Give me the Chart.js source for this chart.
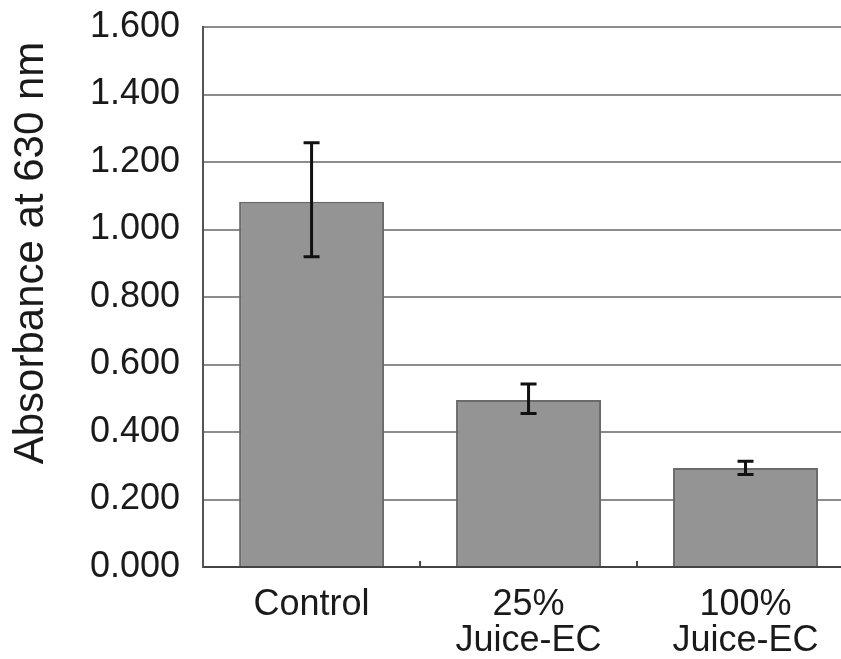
<!DOCTYPE html>
<html>
<head>
<meta charset="utf-8">
<script src="https://cdn.jsdelivr.net/npm/chart.js@4/dist/chart.umd.min.js"></script>
<style>
  html, body { margin: 0; padding: 0; background: #fff; overflow: hidden; }
  #wrap { width: 841px; height: 659px; overflow: hidden; position: relative; }
  #c { position: absolute; left: 0; top: 0; }
</style>
</head>
<body>
<div id="wrap"><canvas id="c" width="880" height="659"></canvas></div>
<script>
const categories = ['Control', ['25%', 'Juice-EC'], ['100%', 'Juice-EC']];
const absorbance = [1.082, 0.495, 0.293];
const errUpper = [1.257, 0.542, 0.313];
const errLower = [0.919, 0.455, 0.274];
const yTicks = [0, 0.2, 0.4, 0.6, 0.8, 1.0, 1.2, 1.4, 1.6];
const yTitle = 'Absorbance at 630 nm';

const FONT = '"Liberation Sans", Arial, sans-serif';

const extras = {
  id: 'extras',
  afterDatasetsDraw(chart) {
    const ctx = chart.ctx;
    const xs = chart.scales.x, ys = chart.scales.y;
    const area = chart.chartArea;
    ctx.save();
    // error bars
    ctx.strokeStyle = '#111';
    ctx.lineWidth = 3;
    for (let i = 0; i < absorbance.length; i++) {
      const x = xs.getPixelForValue(i);
      const yt = ys.getPixelForValue(errUpper[i]);
      const yb = ys.getPixelForValue(errLower[i]);
      ctx.beginPath();
      ctx.moveTo(x, yt); ctx.lineTo(x, yb);
      ctx.moveTo(x - 8, yt); ctx.lineTo(x + 8, yt);
      ctx.moveTo(x - 8, yb); ctx.lineTo(x + 8, yb);
      ctx.stroke();
    }
    // small inward ticks between categories
    ctx.strokeStyle = '#444';
    ctx.lineWidth = 2;
    for (let i = 1; i < absorbance.length; i++) {
      const x = (xs.getPixelForValue(i - 1) + xs.getPixelForValue(i)) / 2;
      ctx.beginPath();
      ctx.moveTo(x, area.bottom); ctx.lineTo(x, area.bottom - 6);
      ctx.stroke();
    }
    // y axis title
    ctx.fillStyle = '#1a1a1a';
    ctx.font = '42px ' + FONT;
    ctx.textAlign = 'center';
    ctx.textBaseline = 'middle';
    ctx.translate(area.left - 172, (area.top + area.bottom) / 2 - 44);
    ctx.rotate(-Math.PI / 2);
    ctx.fillText(yTitle, 0, 0);
    ctx.restore();
  }
};

new Chart(document.getElementById('c'), {
  type: 'bar',
  data: {
    labels: categories,
    datasets: [{
      data: absorbance,
      backgroundColor: '#949494',
      borderColor: '#6a6a6a',
      borderWidth: 2,
      barPercentage: 0.668,
      categoryPercentage: 1.0
    }]
  },
  options: {
    responsive: false,
    animation: false,
    events: [],
    layout: { padding: { left: 90, right: 26, top: 27, bottom: -20 } },
    plugins: { legend: { display: false }, tooltip: { enabled: false } },
    scales: {
      x: {
        grid: { display: false, drawTicks: false },
        border: { display: true, color: '#444', width: 2 },
        ticks: {
          color: '#1a1a1a',
          font: { family: FONT, size: 36, lineHeight: 1.0 },
          padding: 20,
          maxRotation: 0,
          autoSkip: false
        }
      },
      y: {
        min: 0, max: 1.6,
        afterBuildTicks(scale) { scale.ticks = yTicks.map(v => ({ value: v })); },
        grid: { color: '#8c8c8c', lineWidth: 2, drawTicks: true, tickLength: 23, tickColor: 'rgba(0,0,0,0)' },
        border: { display: true, color: '#555', width: 2 },
        ticks: {
          color: '#1a1a1a',
          font: { family: FONT, size: 36 },
          padding: 0,
          callback: v => Number(v).toFixed(3)
        }
      }
    }
  },
  plugins: [extras]
});
</script>
</body>
</html>
